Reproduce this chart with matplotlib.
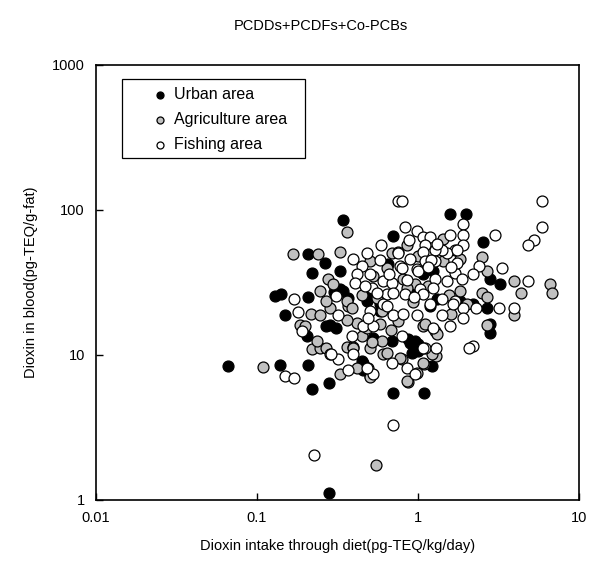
import matplotlib
matplotlib.use("Agg")
import matplotlib.pyplot as plt
from matplotlib.patches import Rectangle

plt.rcParams['font.family'] = ['Liberation Sans', 'DejaVu Sans']

# intake through diet (pg-TEQ/kg/day) and blood level (pg-TEQ/g-fat)
urban_x = [0.066, 0.139, 0.207, 0.22, 0.28, 0.70, 1.09, 1.22, 0.455, 0.28,
           0.342, 1.58, 1.99, 0.70, 2.53, 0.207, 0.264, 0.22, 0.328, 0.129,
           0.141, 0.207, 0.149, 0.284, 0.205, 0.27, 2.8, 2.8, 2.2, 2.68,
           2.8, 3.23, 0.342, 0.482, 1.82, 1.187, 0.525, 0.69, 0.892, 0.958,
           0.918, 1.0, 0.449, 0.455, 0.65, 0.30, 0.58, 1.24,
           0.328, 0.367, 0.581, 0.503, 1.07, 0.986, 1.31, 0.31, 0.867, 1.0]
urban_y = [8.4, 8.5, 8.5, 5.85, 6.4, 5.5, 5.5, 8.4, 8.8, 1.11,
           85.5, 94, 94, 66, 60.4, 49.2, 42.7, 36.5, 37.6, 25.4,
           26.2, 25, 18.8, 16, 13.5, 15.8, 16.3, 14.1, 22.3, 21,
           33.2, 30.6, 27.4, 23.4, 23.4, 21.7, 13.1, 12.5, 12.1, 12.5,
           10.3, 10.7, 9.1, 7.8, 42, 27, 20, 37.6,
           28.3, 24.6, 22.3, 27.4, 35.9, 28.3, 24.2, 15.3, 12.9, 11.9]

agri_x = [0.109, 0.548, 0.362, 0.855, 0.167, 0.24, 0.328, 0.69, 0.751, 0.276,
          0.642, 0.217, 0.246, 0.284, 0.185, 0.2, 0.22, 0.246, 0.237, 0.328,
          0.362, 0.395, 0.503, 0.606, 0.642, 0.796, 0.867, 1.09, 1.29, 2.5,
          2.68, 3.95, 4.36, 6.6, 6.8, 2.5, 2.68, 3.95, 2.68, 0.418,
          0.449, 0.395, 0.503, 0.597, 1.074, 1.275, 1.22, 1.074, 0.855, 0.986,
          0.773, 0.418, 0.503, 0.27, 1.82, 0.297, 0.525, 0.807, 0.958, 0.367,
          0.556, 0.855, 1.82, 2.02, 1.19, 1.43, 1.43,
          0.362, 0.39, 0.482, 0.581, 1.105, 1.31, 0.246, 0.27, 0.45, 0.6,
          0.75, 0.93, 1.15, 0.52, 0.68, 0.36, 1.55, 1.6, 1.0, 0.5]
agri_y = [8.3, 1.74, 70.7, 57.5, 49.2, 49.2, 51.5, 50, 50.8, 33.2,
          39.4, 19.1, 18.8, 21, 16, 15.8, 11, 11.2, 12.5, 7.4,
          11.3, 11.3, 7.2, 10.2, 10.3, 9.4, 6.5, 8.7, 9.8, 46.9,
          37.6, 32.1, 26.6, 30.6, 26.6, 26.6, 25, 18.8, 16, 16.6,
          13.5, 11.2, 11.2, 12.5, 15.8, 14.6, 10.2, 8.8, 6.6, 7.5,
          9.5, 8.1, 7.0, 11.2, 45.4, 30.6, 34.8, 33.2, 30.6, 21.7,
          24.6, 28.8, 27.4, 22.3, 42, 44, 63,
          23.4, 21, 15.3, 16.3, 16.3, 13.9, 27.4, 23.4, 26, 20,
          17, 23, 30, 12.2, 14.8, 17.5, 26, 19, 48, 44]

fish_x = [0.751, 0.796, 5.89, 5.89, 5.25, 4.82, 3.0, 1.90, 1.58, 1.90,
          1.70, 1.90, 2.39, 2.2, 3.32, 4.82, 1.90, 2.29, 3.18, 3.95,
          1.90, 1.58, 2.2, 0.83, 0.589, 0.986, 1.074, 1.187, 1.51, 1.75,
          1.41, 0.751, 0.892, 0.986, 1.105, 1.074, 1.105, 1.275, 1.275, 0.395,
          0.482, 0.449, 0.418, 0.406, 0.503, 0.606, 0.69, 0.773, 1.0, 1.275,
          1.51, 1.70, 1.88, 1.75, 0.518, 0.642, 0.70, 0.83, 1.03, 1.074,
          1.24, 1.41, 1.70, 0.606, 0.17, 0.18, 0.19, 0.318, 0.149, 0.17,
          0.284, 0.318, 0.367, 0.489, 0.525, 0.69, 0.855, 0.958, 1.105, 1.29,
          0.70, 0.226, 0.503, 0.642, 0.70, 0.807, 0.986, 1.187, 1.41, 1.65,
          0.455, 0.525, 0.389, 0.796, 1.074, 0.395, 0.29, 0.482, 0.796, 2.07,
          0.31, 0.49, 1.24, 0.58, 0.88, 1.2, 0.66, 0.86, 1.15, 0.95,
          0.56, 0.47, 1.6, 1.32]
fish_y = [115, 115, 115, 76.5, 62.3, 56.7, 67.4, 80, 67.4, 67.4,
          53.2, 56.7, 40.7, 35.9, 39.4, 32.1, 21, 21, 21, 21,
          17.9, 15.8, 11.5, 76.5, 57.5, 71.8, 65.3, 65.3, 50, 53.2,
          53.2, 50, 45.4, 38.8, 57.5, 51.5, 44, 53.2, 44, 45.4,
          50, 40.7, 35.9, 31.1, 35.9, 32.1, 31.1, 40.7, 37.6, 33.2,
          32.1, 36.5, 33.2, 42.7, 28.8, 26.2, 26.6, 26.2, 28.3, 26.2,
          28.8, 24.2, 23.4, 22.3, 24.2, 19.7, 14.6, 18.8, 7.1, 6.9,
          10.2, 9.4, 7.9, 8.1, 7.4, 8.8, 8.1, 7.4, 11.2, 11.2,
          3.3, 2.04, 20, 21.7, 18.8, 19.1, 18.8, 22.3, 18.8, 22.3,
          15.8, 15.8, 13.5, 13.5, 11.2, 10.2, 10.2, 8.1, 39.4, 11.2,
          25.4, 17.9, 15.3, 45, 62, 45, 36, 33, 40, 25,
          26.5, 30, 40, 58]

fig = plt.figure(figsize=(5.89, 5.72), dpi=100)
ax = fig.add_axes([0.163, 0.126, 0.82, 0.761])

ms = 62
ax.scatter(urban_x, urban_y, s=ms, c='black', edgecolors='black', linewidths=0.9,
           label='Urban area', zorder=3)
ax.scatter(agri_x, agri_y, s=ms, c='#c0c0c0', edgecolors='black', linewidths=0.9,
           label='Agriculture area', zorder=3)
ax.scatter(fish_x, fish_y, s=ms, c='white', edgecolors='black', linewidths=0.9,
           label='Fishing area', zorder=3)

ax.set_xscale('log')
ax.set_yscale('log')
ax.set_xlim(0.01, 10)
ax.set_ylim(1, 1000)
ax.set_xticks([0.01, 0.1, 1, 10])
ax.set_xticklabels(['0.01', '0.1', '1', '10'])
ax.set_yticks([1, 10, 100, 1000])
ax.set_yticklabels(['1', '10', '100', '1000'])
ax.minorticks_off()
ax.tick_params(direction='in', length=5, width=1, labelsize=10.5, pad=8)
for sp in ax.spines.values():
    sp.set_linewidth(1.2)

ax.set_xlabel('Dioxin intake through diet(pg-TEQ/kg/day)', fontsize=10.5, labelpad=10)
ax.set_ylabel('Dioxin in blood(pg-TEQ/g-fat)', fontsize=10.5, labelpad=10)
fig.text(0.545, 0.955, 'PCDDs+PCDFs+Co-PCBs', ha='center', va='center', fontsize=10.5)

# legend box drawn separately so the padding can be wider than tall
ax.add_patch(Rectangle((0.054, 0.786), 0.379, 0.182, transform=ax.transAxes,
                       facecolor='white', edgecolor='black', linewidth=0.9, zorder=4))
leg = ax.legend(loc='upper left', bbox_to_anchor=(0.116, 0.949), borderaxespad=0,
                frameon=False, fontsize=11.5, markerscale=0.64, handlelength=1.0,
                handletextpad=0.4, labelspacing=0.64, borderpad=0)
leg.set_zorder(5)

fig.savefig('out.png', dpi=100)
